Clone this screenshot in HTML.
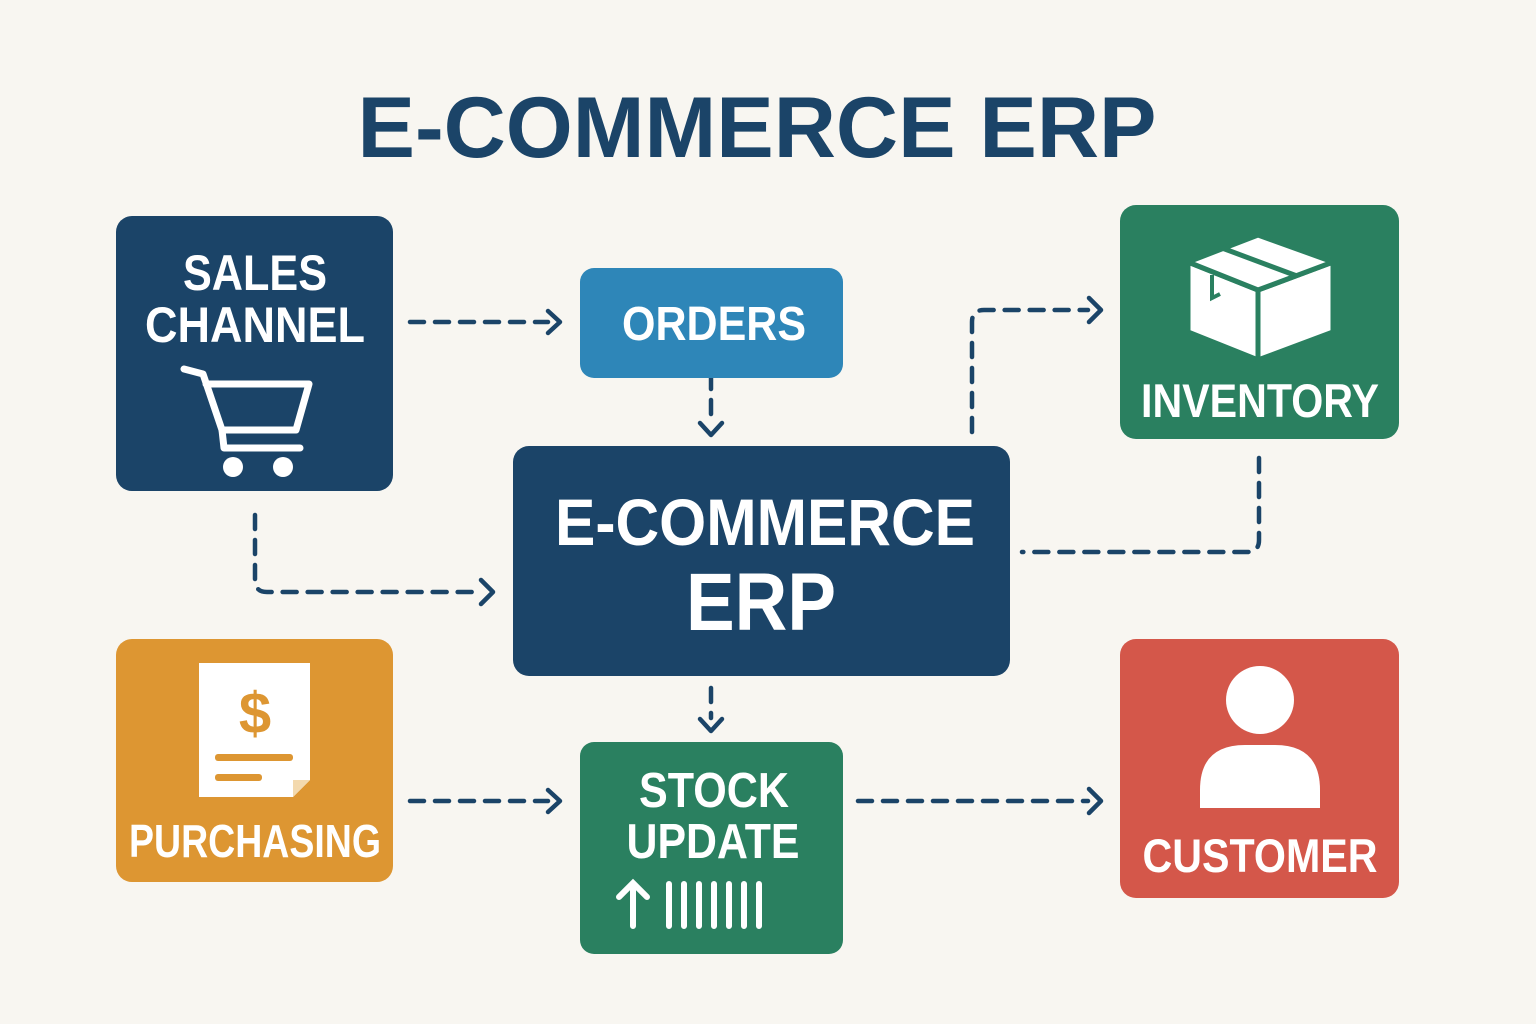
<!DOCTYPE html>
<html><head><meta charset="utf-8"><style>
html,body{margin:0;padding:0;background:#f8f6f1}
svg{display:block}
text{font-family:"Liberation Sans",sans-serif;font-weight:bold;fill:#fff}
</style></head><body>
<svg width="1536" height="1024" viewBox="0 0 1536 1024">
<rect width="1536" height="1024" fill="#f8f6f1"/>
<text x="757" y="157" text-anchor="middle" font-size="86" textLength="799" lengthAdjust="spacingAndGlyphs" style="fill:#1b4468">E-COMMERCE ERP</text>

<g fill="none" stroke="#1b4468" stroke-width="4.5" stroke-linecap="round" stroke-linejoin="round">
 <g stroke-dasharray="14 11">
  <path d="M410 322H548"/>
  <path d="M711 375V420"/>
  <path d="M972 432V322Q972 310 984 310H1088"/>
  <path d="M1259 458V540Q1259 552 1247 552H1022"/>
  <path d="M255 515V580Q255 592 267 592H480"/>
  <path d="M711 688V718"/>
  <path d="M410 801H548"/>
  <path d="M858 801H1088"/>
 </g>
 <path d="M548 311L560 322L548 333"/>
 <path d="M700 423L711 435L722 423"/>
 <path d="M1089 298L1101 310L1089 322"/>
 <path d="M481 580L493 592L481 604"/>
 <path d="M700 719L711 731L722 719"/>
 <path d="M548 790L560 801L548 812"/>
 <path d="M1089 789L1101 801L1089 813"/>
</g>

<!-- Sales channel -->
<rect x="116" y="216" width="277" height="275" rx="16" fill="#1b4468"/>
<text x="255" y="290" text-anchor="middle" font-size="50" textLength="144" lengthAdjust="spacingAndGlyphs">SALES</text>
<text x="255" y="342" text-anchor="middle" font-size="50" textLength="220" lengthAdjust="spacingAndGlyphs">CHANNEL</text>
<g fill="none" stroke="#fff" stroke-width="7" stroke-linejoin="round" stroke-linecap="round">
 <path d="M184 369L203 374L222 430H296L309 384H206"/>
 <path d="M222 430L224 448H300"/>
</g>
<circle cx="233" cy="467" r="10" fill="#fff"/><circle cx="283" cy="467" r="10" fill="#fff"/>

<!-- Orders -->
<rect x="580" y="268" width="263" height="110" rx="14" fill="#2e86b8"/>
<text x="714" y="340" text-anchor="middle" font-size="48" textLength="184" lengthAdjust="spacingAndGlyphs">ORDERS</text>

<!-- ERP -->
<rect x="513" y="446" width="497" height="230" rx="16" fill="#1b4468"/>
<text x="765" y="545" text-anchor="middle" font-size="66" textLength="420" lengthAdjust="spacingAndGlyphs">E-COMMERCE</text>
<text x="761" y="630" text-anchor="middle" font-size="82" textLength="150" lengthAdjust="spacingAndGlyphs">ERP</text>

<!-- Inventory -->
<rect x="1120" y="205" width="279" height="234" rx="16" fill="#2a8060"/>
<g fill="#fff" stroke="#2a8060" stroke-width="5" stroke-linejoin="round">
 <polygon points="1188,262 1258,290 1258,360 1188,332"/>
 <polygon points="1258,290 1333,262 1333,332 1258,360"/>
 <polygon points="1188,262 1258,235 1333,262 1258,290"/>
</g>
<path d="M1222 248L1297 276" stroke="#2a8060" stroke-width="5"/>
<path d="M1212 275V298L1220 294" stroke="#2a8060" stroke-width="4" fill="none"/>
<text x="1260" y="417" text-anchor="middle" font-size="47" textLength="238" lengthAdjust="spacingAndGlyphs">INVENTORY</text>

<!-- Purchasing -->
<rect x="116" y="639" width="277" height="243" rx="16" fill="#dd9632"/>
<path d="M199 663H310V780L293 797H199Z" fill="#fff"/>
<path d="M293 797V780H310Z" fill="#f3d9ae"/>
<text x="255" y="733" text-anchor="middle" font-size="58" style="fill:#dd9632">$</text>
<rect x="215" y="754" width="78" height="7" rx="3" fill="#dd9632"/>
<rect x="215" y="774" width="47" height="7" rx="3" fill="#dd9632"/>
<text x="255" y="857" text-anchor="middle" font-size="46" textLength="252" lengthAdjust="spacingAndGlyphs">PURCHASING</text>

<!-- Stock update -->
<rect x="580" y="742" width="263" height="212" rx="14" fill="#2a8060"/>
<text x="714" y="807" text-anchor="middle" font-size="49" textLength="150" lengthAdjust="spacingAndGlyphs">STOCK</text>
<text x="713" y="858" text-anchor="middle" font-size="49" textLength="173" lengthAdjust="spacingAndGlyphs">UPDATE</text>
<g stroke="#fff" stroke-width="6" stroke-linecap="round" fill="none">
 <path d="M633 926V884M619 897L633 883L647 897"/>
 <path d="M669 884V926M684 884V926M699 884V926M714 884V926M729 884V926M744 884V926M759 884V926"/>
</g>

<!-- Customer -->
<rect x="1120" y="639" width="279" height="259" rx="16" fill="#d4574a"/>
<circle cx="1260" cy="700" r="34" fill="#fff"/>
<path d="M1200 808V790Q1200 745 1245 745H1275Q1320 745 1320 790V808Z" fill="#fff"/>
<text x="1260" y="872" text-anchor="middle" font-size="47" textLength="235" lengthAdjust="spacingAndGlyphs">CUSTOMER</text>
</svg>
</body></html>
